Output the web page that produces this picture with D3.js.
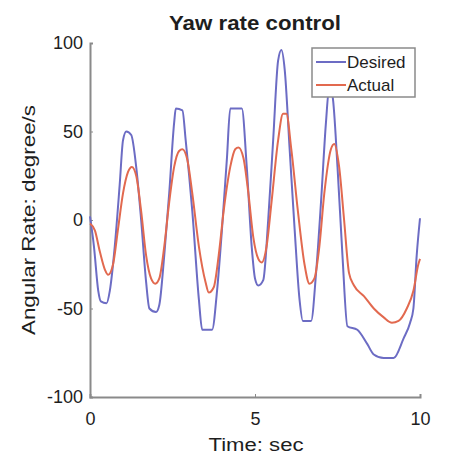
<!DOCTYPE html>
<html><head><meta charset="utf-8">
<script src="https://cdn.jsdelivr.net/npm/d3@7"></script>
<style>body{margin:0;background:#fff}svg{display:block}</style>
</head><body>
<svg id="c" width="458" height="456"></svg>
<script>
const desiredT = [0,0.12,0.25,0.33,0.5,0.6,0.75,0.9,1.0,1.1,1.25,1.4,1.55,1.7,1.8,2.0,2.1,2.25,2.4,2.55,2.6,2.8,2.9,3.1,3.3,3.4,3.7,3.85,4.0,4.15,4.25,4.6,4.75,4.9,5.0,5.1,5.25,5.4,5.55,5.7,5.8,5.9,6.05,6.2,6.35,6.45,6.7,6.85,7.0,7.15,7.25,7.35,7.5,7.65,7.8,8.1,8.4,8.6,8.9,9.2,9.5,9.7,9.8,9.9,10];
const desiredV = [2,-15,-40,-46,-47,-40,-15,20,45,50,48,30,0,-35,-50,-52,-48,-20,15,55,63,62,45,5,-45,-62,-62,-40,-5,35,63,63,30,-15,-33,-37,-34,0,45,90,96,85,40,-5,-45,-57,-57,-30,10,55,75,70,30,-20,-60,-62,-70,-76,-78,-78,-67,-58,-50,-20,1];
const actualT = [0,0.15,0.3,0.45,0.55,0.7,0.85,1.0,1.15,1.27,1.4,1.55,1.7,1.85,1.98,2.1,2.25,2.4,2.55,2.7,2.8,2.95,3.1,3.3,3.5,3.6,3.75,3.9,4.05,4.25,4.4,4.5,4.65,4.8,4.95,5.1,5.2,5.35,5.5,5.7,5.85,5.95,6.1,6.3,6.5,6.65,6.8,6.95,7.1,7.3,7.4,7.55,7.7,7.85,8.0,8.3,8.6,8.9,9.15,9.35,9.6,9.8,9.95,10.0];
const actualV = [-2,-6,-18,-28,-31,-25,-5,15,27,30,25,5,-20,-33,-36,-33,-15,10,30,39,40,34,15,-15,-35,-41,-38,-20,5,30,40,41,35,15,-10,-22,-24,-15,10,45,60,60,40,5,-25,-36,-33,-15,15,40,43,30,0,-30,-37,-43,-50,-55,-58,-57,-50,-40,-25,-22];
const xTicks = [0,5,10];
const yTicks = [-100,-50,0,50,100];
const seriesNames = ["Desired","Actual"];
const colors = ["#6c6cc4","#e2694f"];

const svg = d3.select("#c");
const font = "'Liberation Sans', Arial, sans-serif";
const x = d3.scaleLinear().domain([0,10]).range([90,420]);
const y = d3.scaleLinear().domain([-100,100]).range([397,43]);
const axisColor = "#8a8a8a";
const textColor = "#1e1e1e";

const gx = svg.append("g").attr("transform","translate(0,397)")
  .call(d3.axisBottom(x).tickValues(xTicks).tickSize(-3).tickPadding(15).tickFormat(d => String(d)));
const gy = svg.append("g").attr("transform","translate(90,0)")
  .call(d3.axisLeft(y).tickValues(yTicks).tickSize(-3).tickPadding(7).tickFormat(d => String(d)));
[gx,gy].forEach(g=>{
  g.select(".domain").attr("stroke",axisColor).attr("stroke-width",2);
  g.selectAll(".tick line").attr("stroke",axisColor);
  g.selectAll(".tick text").attr("fill",textColor).style("font-family",font).style("font-size","18px");
});

const line = d3.line().curve(d3.curveMonotoneX).x(d=>x(d[0])).y(d=>y(d[1]));
const dData = desiredT.map((t,i)=>[t,desiredV[i]]);
const aData = actualT.map((t,i)=>[t,actualV[i]]);
svg.append("path").datum(dData).attr("d",line).attr("fill","none").attr("stroke",colors[0]).attr("stroke-width",2).attr("stroke-linejoin","round");
svg.append("path").datum(aData).attr("d",line).attr("fill","none").attr("stroke",colors[1]).attr("stroke-width",2).attr("stroke-linejoin","round");

// title
svg.append("text").attr("x",255).attr("y",30).attr("text-anchor","middle")
  .attr("textLength",172).attr("lengthAdjust","spacingAndGlyphs")
  .style("font-family",font).style("font-size","20px").style("font-weight","bold").attr("fill",textColor).text("Yaw rate control");
// axis labels
svg.append("text").attr("x",256).attr("y",451).attr("text-anchor","middle")
  .attr("textLength",95).attr("lengthAdjust","spacingAndGlyphs")
  .style("font-family",font).style("font-size","18px").attr("fill",textColor).text("Time: sec");
svg.append("text").attr("transform","translate(35,220) rotate(-90)").attr("text-anchor","middle")
  .attr("textLength",230).attr("lengthAdjust","spacingAndGlyphs")
  .style("font-family",font).style("font-size","18px").attr("fill",textColor).text("Angular Rate: degree/s");

// legend
const lg = svg.append("g");
lg.append("rect").attr("x",312).attr("y",48).attr("width",103).attr("height",49)
  .attr("fill","#fff").attr("stroke","#8a8a8a").attr("stroke-width",1.5);
seriesNames.forEach((n,i)=>{
  const yy = 62 + i*23;
  lg.append("line").attr("x1",316).attr("x2",346).attr("y1",yy).attr("y2",yy).attr("stroke",colors[i]).attr("stroke-width",2);
  lg.append("text").attr("x",347).attr("y",yy+6).style("font-family",font).style("font-size","17px").attr("fill",textColor).text(n);
});
</script>
</body></html>
